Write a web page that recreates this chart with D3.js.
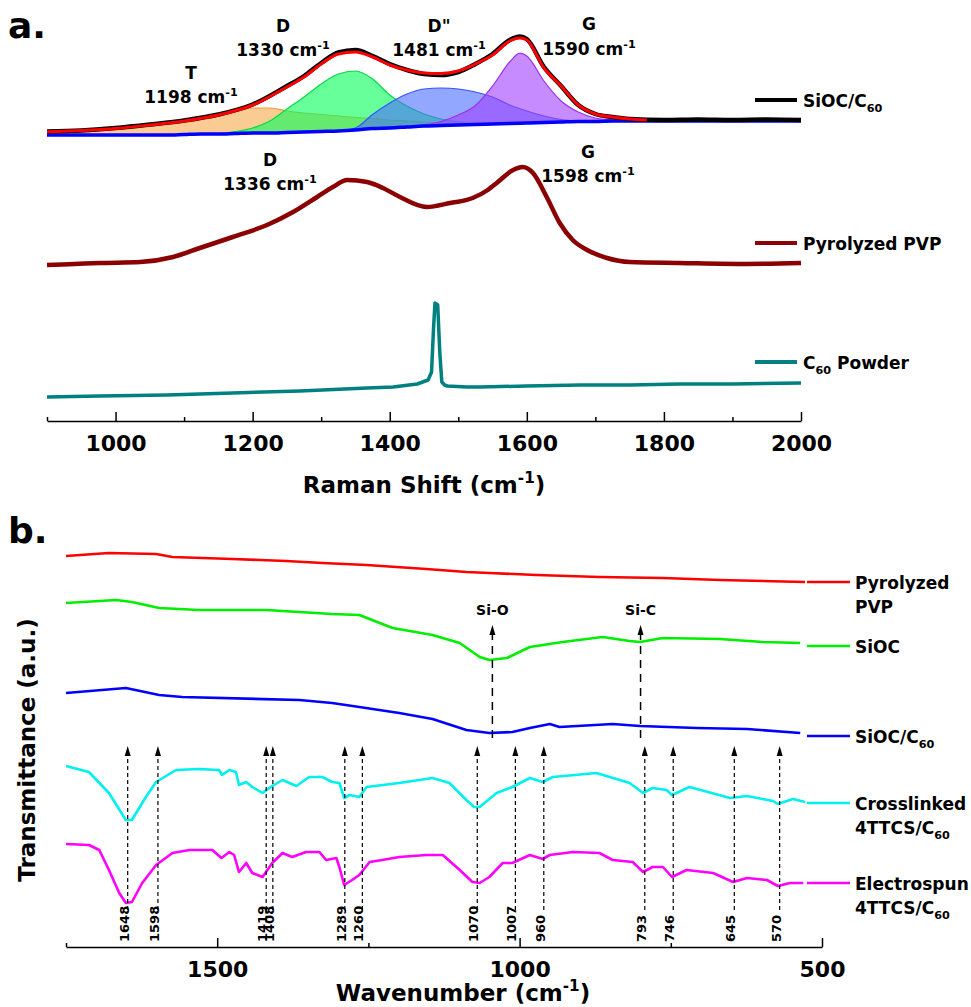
<!DOCTYPE html>
<html>
<head>
<meta charset="utf-8">
<title>Raman and FTIR spectra</title>
<script src="https://cdn.jsdelivr.net/npm/d3@7/dist/d3.min.js"></script>
<style>
  body { margin: 0; background: #ffffff; }
  svg { display: block; }
  text { font-family: "DejaVu Sans", Verdana, sans-serif; font-weight: bold; fill: #000; }
</style>
</head>
<body>
<svg id="chart" width="971" height="1007"></svg>
<script>
// ---------- panel a: Raman (intensity in a.u.) ----------
const ramanMajorTicks = [1000, 1200, 1400, 1600, 1800, 2000];
const ramanMinorTicks = [900, 1100, 1300, 1500, 1700, 1900];

const siocShift = [900, 950, 1000, 1050, 1100, 1150, 1200, 1250, 1275, 1300, 1325, 1350, 1375, 1400, 1425, 1450, 1475, 1500, 1525, 1550, 1575, 1590, 1600, 1625, 1650, 1675, 1700, 1725, 1750, 1800, 1850, 1900, 1950, 2000];
const siocIntensity = [4.5, 5.5, 8, 11.5, 15.5, 21.5, 31.5, 50, 60, 73, 83.5, 86, 80, 72, 66, 62, 61, 64, 72, 82, 96, 99.5, 97, 69, 50, 31, 22, 19, 17, 16, 16.5, 16, 16.5, 16];

const fitShift = [900, 950, 1000, 1050, 1100, 1150, 1200, 1250, 1275, 1300, 1325, 1350, 1375, 1400, 1425, 1450, 1475, 1500, 1525, 1550, 1575, 1590, 1600, 1625, 1650, 1675, 1700, 1725, 1750, 1775];
const fitIntensity = [4.3, 5.5, 7.5, 11, 15, 21, 31, 49, 59, 72, 82, 84, 79, 71, 66, 63, 62.5, 65, 72, 81, 95, 98, 96, 68, 50, 31, 22, 19, 17, 16];

// fitted bands share one shift grid, heights are above the fit baseline
const bandShift = [900, 925, 950, 975, 1000, 1025, 1050, 1075, 1100, 1125, 1150, 1175, 1200, 1225, 1250, 1275, 1300, 1325, 1350, 1375, 1400, 1425, 1450, 1475, 1500, 1525, 1550, 1575, 1590, 1600, 1625, 1650, 1675, 1700, 1725, 1750, 1775, 1800, 1900, 2000];
const fitBaseline = [1, 1, 1, 1, 1, 1, 1, 1, 1.5, 2, 2, 2.5, 3, 3, 3.5, 4, 4.5, 5, 6, 7.5, 8, 9, 10, 10.5, 11, 11.5, 12, 12.5, 12.8, 13, 13.5, 14, 14.5, 14.5, 15, 15, 15, 15, 15, 15];
const bandT = [3.3, 3.8, 4.5, 5.5, 6.5, 8, 10, 11.5, 13.5, 16, 18.5, 22.5, 25, 25, 21.5, 19, 17, 15, 12.5, 10, 8, 6, 4, 2.5, 1, 0.3, 0, 0, 0, 0, 0, 0, 0, 0, 0, 0, 0, 0, 0, 0];
const bandD = [0, 0, 0, 0, 0, 0, 0, 0, 0, 0, 0.5, 2, 5, 12, 23.5, 35, 47.5, 57, 59, 49.5, 33, 21, 12, 6.5, 3, 1, 0, 0, 0, 0, 0, 0, 0, 0, 0, 0, 0, 0, 0, 0];
const bandD2 = [0, 0, 0, 0, 0, 0, 0, 0, 0, 0, 0, 0, 0, 0, 0, 0, 0, 0, 2, 14, 25, 33, 37, 37.5, 36, 32.5, 27, 18.5, 14.5, 12, 6.5, 2.5, 0.5, 0, 0, 0, 0, 0, 0, 0];
const bandG = [0, 0, 0, 0, 0, 0, 0, 0, 0, 0, 0, 0, 0, 0, 0, 0, 0, 0, 0, 0, 0, 0, 1, 4, 10, 19, 38, 61.5, 70, 67, 41.5, 21, 9.5, 3.5, 1, 0, 0, 0, 0, 0];

const pvpShift = [900, 940, 977, 1036, 1084, 1123, 1171, 1221, 1259, 1294, 1317, 1338, 1367, 1390, 1415, 1454, 1488, 1521, 1543, 1556, 1580, 1594, 1609, 1629, 1648, 1667, 1688, 1717, 1750, 1823, 1921, 2000];
const pvpIntensity = [0, 1, 2, 3, 8, 17, 28, 40, 53, 68, 78, 85, 83, 77, 68, 58, 62, 67, 75, 82, 95, 98, 92, 68, 42, 25, 15, 7, 3, 2, 1, 2];

const c60Shift = [900, 977, 1075, 1171, 1269, 1367, 1405, 1440, 1456, 1461, 1464, 1466, 1470, 1473, 1476, 1480, 1484, 1513, 1532, 1600, 1678, 1750, 1823, 1900, 2000];
const c60Intensity = [0, 1, 2, 4, 6, 9, 10, 13, 17, 25, 70, 94, 92, 45, 15, 12, 11, 10, 10, 11, 12, 12, 13, 13, 14];

const siocBandLabels = [["T", 1198], ["D", 1330], ["D\"", 1481], ["G", 1590]];
const pvpBandLabels = [["D", 1336], ["G", 1598]];

// ---------- panel b: FTIR (transmittance in a.u.) ----------
const irMajorTicks = [1500, 1000, 500];
const irMinorTicks = [1750, 1250, 750];

const pvpIrWave = [1750, 1679, 1601, 1574, 1475, 1386, 1326, 1253, 1154, 1088, 1050, 972, 868, 763, 669, 528];
const pvpIrT = [26, 29, 28, 25, 23, 21, 19, 17, 13, 10, 9, 7, 5, 4, 2, 0];

const siocIrWave = [1750, 1667, 1641, 1596, 1530, 1419, 1310, 1265, 1210, 1144, 1099, 1066, 1050, 1021, 983, 929, 863, 818, 801, 763, 669, 598, 536];
const siocIrT = [43, 46, 44, 38, 36, 36, 32, 31, 18, 11, 3, -11, -14, -12, -1, 4, 9, 5, 4, 8, 7, 4, 3];

const siocC60IrWave = [1750, 1651, 1596, 1558, 1364, 1310, 1265, 1199, 1144, 1088, 1050, 1012, 983, 950, 934, 846, 801, 707, 624, 536];
const siocC60IrT = [43, 48, 41, 39, 36, 33, 29, 23, 17, 6, 3, 4, 8, 12, 9, 12, 10, 8, 7, 3];

const crossIrWave = [1750, 1712, 1679, 1651, 1641, 1618, 1601, 1568, 1530, 1497, 1492, 1480, 1469, 1464, 1452, 1442, 1425, 1409, 1392, 1369, 1348, 1326, 1310, 1298, 1290, 1281, 1265, 1253, 1199, 1144, 1116, 1088, 1075, 1066, 1050, 1038, 1012, 983, 962, 945, 873, 818, 796, 780, 757, 748, 719, 652, 624, 581, 573, 548, 528];
const crossIrT = [37, 31, 10, -17, -17, 6, 21, 33, 34, 33, 28, 33, 31, 18, 21, 16, 10, 17, 23, 17, 26, 26, 21, 20, 5, 8, 6, 16, 20, 25, 20, 3, -4, -4, 4, 10, 16, 25, 21, 26, 30, 20, 10, 15, 13, 8, 16, 5, 7, 2, -1, 4, 1];

const elecIrWave = [1750, 1712, 1695, 1679, 1662, 1651, 1641, 1624, 1601, 1574, 1546, 1508, 1493, 1480, 1472, 1464, 1452, 1442, 1425, 1409, 1392, 1376, 1353, 1331, 1320, 1303, 1298, 1290, 1277, 1265, 1248, 1227, 1199, 1154, 1127, 1099, 1078, 1066, 1050, 1028, 1012, 983, 962, 950, 912, 868, 846, 813, 796, 780, 763, 748, 724, 680, 647, 624, 591, 573, 553, 531];
const elecIrT = [39, 38, 33, 13, -10, -20, -19, 0, 18, 30, 33, 33, 25, 31, 28, 11, 20, 10, 6, 20, 30, 26, 31, 31, 23, 25, 16, -2, 3, 8, 21, 23, 26, 28, 28, 13, 1, 0, 6, 20, 20, 28, 24, 28, 31, 30, 23, 21, 11, 16, 16, 6, 13, 10, 1, 5, 3, -3, 0, 0];

const irPeaks = [1648, 1598, 1419, 1408, 1289, 1260, 1070, 1007, 960, 793, 746, 645, 570];
const bondNames = ["Si-O", "Si-C"];
const bondWave = [1045, 800];

// ---------- drawing ----------
const svg = d3.select("#chart");

function pairs(xs, ys) {
    return xs.map(function (x, i) { return [x, ys[i]]; });
}

function drawTrace(xScale, yScale, offset, xs, ys, color, width, curve) {
    const line = d3.line()
        .x(function (d) { return xScale(d[0]); })
        .y(function (d) { return yScale(d[1] + offset); })
        .curve(curve || d3.curveMonotoneX);
    svg.append("path")
        .datum(pairs(xs, ys))
        .attr("d", line)
        .attr("fill", "none")
        .attr("stroke", color)
        .attr("stroke-width", width)
        .attr("stroke-linejoin", "round");
}

// parts: [text, "sup" | "sub" | undefined]
function richText(x, y, parts, size, anchor) {
    const t = svg.append("text")
        .attr("x", x)
        .attr("y", y)
        .attr("font-size", size)
        .attr("text-anchor", anchor || "start");
    let shift = 0;
    parts.forEach(function (p) {
        const target = p[1] === "sup" ? -0.42 * size : (p[1] === "sub" ? 0.3 * size : 0);
        const span = t.append("tspan").text(p[0]).attr("dy", target - shift);
        if (p[1]) span.attr("font-size", size * 0.66);
        shift = target;
    });
    return t;
}

function drawAxis(xScale, yPos, major, minor, pad) {
    const g = svg.append("g").attr("transform", "translate(0," + yPos + ")");
    g.call(d3.axisBottom(xScale).tickValues(major).tickSize(-9).tickSizeOuter(0)
        .tickPadding(pad).tickFormat(d3.format("d")));
    g.append("g").call(d3.axisBottom(xScale).tickValues(minor).tickSize(-4).tickFormat(""))
        .select(".domain").remove();
    g.selectAll("path, line").attr("stroke", "#000").attr("stroke-width", 1.5);
    g.selectAll("text")
        .attr("font-family", "'DejaVu Serif', serif")
        .attr("font-weight", "bold")
        .attr("font-size", 22)
        .attr("fill", "#000");
}

// panel a
const xA = d3.scaleLinear().domain([900, 2000]).range([47, 801]);
const yA = d3.scaleLinear().domain([0, 400]).range([421, 21]);
const offA = {sioc: 285, pvp: 156, c60: 24};

const bands = [
    {h: bandT, fill: "#f9a84d", stroke: "#f29a3a"},
    {h: bandD, fill: "#00ff55", stroke: "#00dd44"},
    {h: bandD2, fill: "#4a6cff", stroke: "#3355ff"},
    {h: bandG, fill: "#a040ff", stroke: "#9a30f0"}
];
bands.forEach(function (b) {
    const area = d3.area()
        .x(function (d, i) { return xA(bandShift[i]); })
        .y0(function (d, i) { return yA(offA.sioc + fitBaseline[i]); })
        .y1(function (d, i) { return yA(offA.sioc + fitBaseline[i] + d); })
        .curve(d3.curveMonotoneX);
    svg.append("path").datum(b.h).attr("d", area)
        .attr("fill", b.fill).attr("fill-opacity", 0.6).attr("stroke", "none");
    svg.append("path").datum(b.h).attr("d", area.lineY1())
        .attr("fill", "none").attr("stroke", b.stroke).attr("stroke-width", 1.2);
});

drawTrace(xA, yA, offA.sioc, bandShift, fitBaseline, "#0000ff", 3.5);
drawTrace(xA, yA, offA.sioc, siocShift, siocIntensity, "#000000", 4.5);
drawTrace(xA, yA, offA.sioc, fitShift, fitIntensity, "#ff0000", 3);
drawTrace(xA, yA, offA.pvp, pvpShift, pvpIntensity, "#8b0000", 4.5);
drawTrace(xA, yA, offA.c60, c60Shift, c60Intensity, "#008080", 3.5, d3.curveLinear);

drawAxis(xA, 421, ramanMajorTicks, ramanMinorTicks, 14);

// band labels
const siocLabelPos = [[191, 79, 103], [283, 32, 56], [439, 32, 56], [589, 30, 55]];
siocBandLabels.forEach(function (b, i) {
    const p = siocLabelPos[i];
    richText(p[0], p[1], [[b[0]]], 17, "middle");
    richText(p[0], p[2], [[b[1] + " cm"], ["-1", "sup"]], 17, "middle");
});
const pvpLabelPos = [[270, 166, 190], [588, 158, 182]];
pvpBandLabels.forEach(function (b, i) {
    const p = pvpLabelPos[i];
    richText(p[0], p[1], [[b[0]]], 17, "middle");
    richText(p[0], p[2], [[b[1] + " cm"], ["-1", "sup"]], 17, "middle");
});

// panel a legend
[[100, "#000000", [["SiOC/C"], ["60", "sub"]]],
 [243, "#8b0000", [["Pyrolyzed PVP"]]],
 [362, "#008080", [["C"], ["60", "sub"], [" Powder"]]]].forEach(function (l) {
    svg.append("line").attr("x1", 755).attr("x2", 797).attr("y1", l[0]).attr("y2", l[0])
        .attr("stroke", l[1]).attr("stroke-width", 4);
    richText(803, l[0] + 7, l[2], 17);
});

richText(424, 493, [["Raman Shift (cm"], ["-1", "sup"], [")"]], 23, "middle");
svg.append("text").attr("x", 8).attr("y", 38).attr("font-size", 36).text("a.");

// panel b
const xB = d3.scaleLinear().domain([1750, 500]).range([66, 822]);
const yB = d3.scaleLinear().domain([0, 400]).range([947, 547]);
const irSeries = [
    {w: pvpIrWave, t: pvpIrT, off: 365, color: "#ff0000", name: [[["Pyrolyzed"]], [["PVP"]]]},
    {w: siocIrWave, t: siocIrT, off: 301, color: "#00ee00", name: [[["SiOC"]]]},
    {w: siocC60IrWave, t: siocC60IrT, off: 211, color: "#0000ff", name: [[["SiOC/C"], ["60", "sub"]]]},
    {w: crossIrWave, t: crossIrT, off: 144, color: "#00f0f0", name: [[["Crosslinked"]], [["4TTCS/C"], ["60", "sub"]]]},
    {w: elecIrWave, t: elecIrT, off: 64, color: "#ff00ff", name: [[["Electrospun"]], [["4TTCS/C"], ["60", "sub"]]]}
];
irSeries.forEach(function (s) {
    drawTrace(xB, yB, s.off, s.w, s.t, s.color, 2.6, d3.curveLinear);
    const ly = yB(s.off);
    svg.append("line").attr("x1", 807).attr("x2", 850).attr("y1", ly).attr("y2", ly)
        .attr("stroke", s.color).attr("stroke-width", 2.6);
    s.name.forEach(function (parts, k) {
        richText(855, ly + 7 + k * 24, parts, 17);
    });
});

// peak markers
irPeaks.forEach(function (p) {
    const x = xB(p);
    svg.append("line").attr("x1", x).attr("x2", x).attr("y1", 752).attr("y2", 910)
        .attr("stroke", "#000").attr("stroke-width", 1.2).attr("stroke-dasharray", "4,3");
    svg.append("path")
        .attr("d", "M" + (x - 3) + ",756L" + x + ",746L" + (x + 3) + ",756Z")
        .attr("fill", "#000");
    svg.append("text")
        .attr("transform", "translate(" + (x + 1) + ",942) rotate(-90)")
        .attr("font-size", 13)
        .attr("font-weight", "normal")
        .text(p);
});

bondWave.forEach(function (w, i) {
    const x = xB(w);
    svg.append("line").attr("x1", x).attr("x2", x).attr("y1", 632).attr("y2", 742)
        .attr("stroke", "#000").attr("stroke-width", 1.5).attr("stroke-dasharray", "8,6");
    svg.append("path")
        .attr("d", "M" + (x - 3) + ",635L" + x + ",625L" + (x + 3) + ",635Z")
        .attr("fill", "#000");
    svg.append("text").attr("x", x).attr("y", 615).attr("font-size", 14)
        .attr("text-anchor", "middle").text(bondNames[i]);
});

drawAxis(xB, 947, irMajorTicks, irMinorTicks, 14);

richText(463, 1001, [["Wavenumber (cm"], ["-1", "sup"], [")"]], 23, "middle");
svg.append("text")
    .attr("transform", "translate(35,750) rotate(-90)")
    .attr("font-size", 23)
    .attr("text-anchor", "middle")
    .text("Transmittance (a.u.)");
svg.append("text").attr("x", 8).attr("y", 543).attr("font-size", 36).text("b.");
</script>
</body>
</html>
